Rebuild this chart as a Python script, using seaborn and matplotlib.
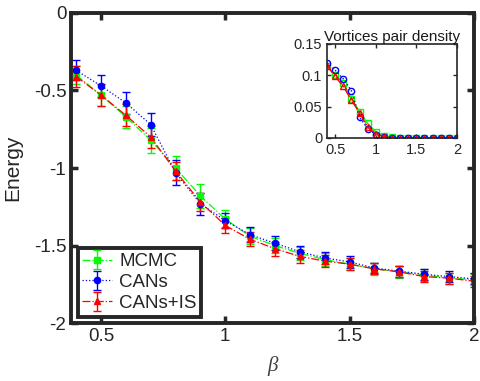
import numpy as np
import seaborn as sns
import pandas as pd
from matplotlib import pyplot as plt

sns.set_style("ticks")
plt.rcParams['font.family'] = ['Liberation Sans', 'DejaVu Sans']
plt.rcParams['xtick.direction'] = 'in'
plt.rcParams['ytick.direction'] = 'in'

beta = [0.4, 0.5, 0.6, 0.7, 0.8, 0.9, 1.0, 1.1, 1.2, 1.3, 1.4, 1.5, 1.6, 1.7, 1.8, 1.9, 2.0]

mcmc_e = [-0.40, -0.53, -0.67, -0.82, -1.00, -1.18, -1.33, -1.44, -1.50, -1.55, -1.59, -1.62, -1.65, -1.67, -1.69, -1.71, -1.72]
mcmc_err = [0.06, 0.07, 0.07, 0.08, 0.08, 0.08, 0.06, 0.05, 0.05, 0.04, 0.04, 0.04, 0.04, 0.04, 0.04, 0.035, 0.035]
cans_e = [-0.37, -0.47, -0.58, -0.72, -1.03, -1.23, -1.34, -1.43, -1.485, -1.54, -1.58, -1.605, -1.645, -1.665, -1.685, -1.70, -1.715]
cans_err = [0.065, 0.07, 0.07, 0.075, 0.08, 0.07, 0.05, 0.05, 0.045, 0.04, 0.04, 0.04, 0.035, 0.035, 0.035, 0.035, 0.035]
canis_e = [-0.41, -0.53, -0.66, -0.80, -1.02, -1.22, -1.37, -1.46, -1.52, -1.57, -1.60, -1.62, -1.65, -1.67, -1.70, -1.71, -1.73]
canis_err = [0.07, 0.07, 0.07, 0.07, 0.06, 0.06, 0.05, 0.045, 0.045, 0.04, 0.04, 0.04, 0.035, 0.035, 0.035, 0.035, 0.035]

mcmc_v = [0.115, 0.100, 0.088, 0.062, 0.042, 0.023, 0.010, 0.003, 0.001, 0, 0, 0, 0, 0, 0, 0, 0]
cans_v = [0.120, 0.108, 0.094, 0.075, 0.033, 0.015, 0.005, 0.002, 0.0005, 0, 0, 0, 0, 0, 0, 0, 0]
canis_v = [0.115, 0.098, 0.082, 0.060, 0.040, 0.017, 0.007, 0.002, 0.0005, 0, 0, 0, 0, 0, 0, 0, 0]

names = ["MCMC", "CANs", "CANs+IS"]
colors = ["#00ff00", "#0000ff", "#ff0000"]
markers = ["s", "o", "^"]
styles = ["-.", ":", "-."]

fig = plt.figure(figsize=(4.81, 3.81), dpi=100)
ax = fig.add_axes([0.148, 0.152, 0.837, 0.814])

series = [(mcmc_e, mcmc_err), (cans_e, cans_err), (canis_e, canis_err)]
for (e, err), name, c, m, ls in zip(series, names, colors, markers, styles):
    ax.errorbar(beta, e, yerr=err, color=c, marker=m, markersize=4.5, ls=ls, lw=0.9,
                elinewidth=1, capsize=3, label=name)

ax.set_xlim(0.38, 2.0)
ax.set_ylim(-2, 0)
ax.set_xticks([0.5, 1, 1.5, 2])
ax.set_xticklabels(["0.5", "1", "1.5", "2"])
ax.set_yticks([-2, -1.5, -1, -0.5, 0])
ax.set_yticklabels(["-2", "-1.5", "-1", "-0.5", "0"])
ax.tick_params(labelsize=13.5, width=2.5, length=5, top=True, right=True, colors="#262626", labelcolor="#262626")
for s in ax.spines.values():
    s.set_linewidth(2.8)
    s.set_color("#262626")
ax.set_ylabel("Energy", fontsize=15, color="#262626", labelpad=8)
ax.set_xlabel("β", fontsize=15, fontstyle="italic", family=["Liberation Serif", "DejaVu Serif"],
              color="#404040", labelpad=8)

leg = ax.legend(loc="lower left", fontsize=13.5, fancybox=False, framealpha=1,
                borderaxespad=0.35, handlelength=1.6, labelspacing=0.2, borderpad=0.25, handletextpad=0.35)
leg.get_frame().set_edgecolor("#262626")
leg.get_frame().set_linewidth(2.8)

ins = fig.add_axes([0.680, 0.638, 0.270, 0.247])
df = pd.DataFrame({"beta": beta * 3,
                   "v": mcmc_v + cans_v + canis_v,
                   "m": [names[0]] * len(beta) + [names[1]] * len(beta) + [names[2]] * len(beta)})
for name, c, m, ls in zip(names, colors, markers, ["-", ":", "-."]):
    sub = df[df["m"] == name]
    sns.lineplot(data=sub, x="beta", y="v", ax=ins, color=c, marker=m, markersize=4.5,
                 markerfacecolor="none", markeredgecolor=c, markeredgewidth=1, ls=ls, lw=1)
ins.set_xlim(0.4, 2.0)
ins.set_ylim(0, 0.15)
ins.set_xticks([0.5, 1, 1.5, 2])
ins.set_xticklabels(["0.5", "1", "1.5", "2"])
ins.set_yticks([0, 0.05, 0.1, 0.15])
ins.set_yticklabels(["0", "0.05", "0.1", "0.15"])
ins.set_xlabel("")
ins.set_ylabel("")
ins.tick_params(labelsize=10.5, width=1, length=3, top=True, right=True, labelcolor="#262626")
for s in ins.spines.values():
    s.set_linewidth(1.2)
    s.set_color("#262626")
ins.set_title("Vortices pair density", fontsize=11, pad=2, color="#1a1a1a")

fig.savefig("out.png", dpi=100)
